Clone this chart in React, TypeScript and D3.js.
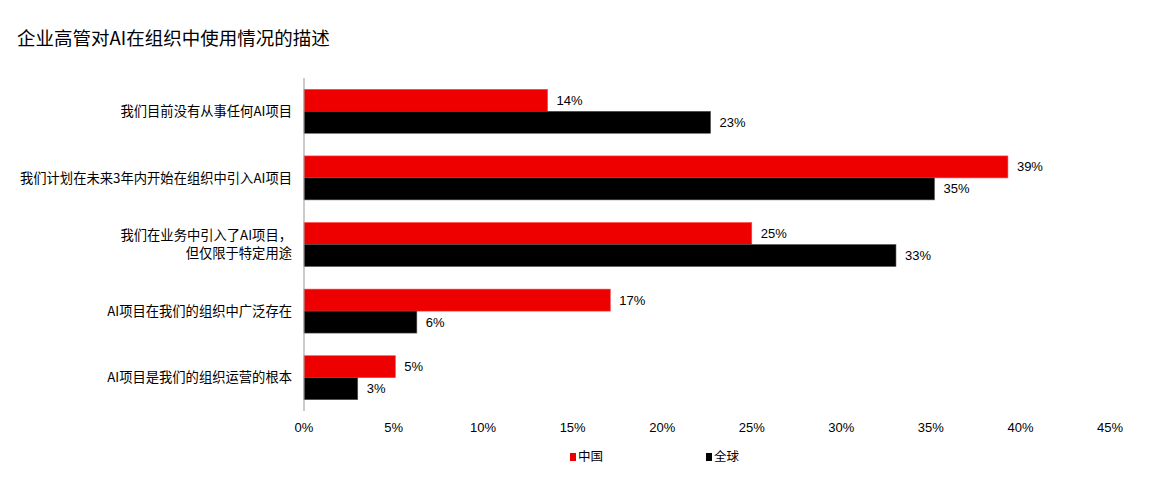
import React from "react";
import * as d3 from "d3";

const categories = [
  ["我们目前没有从事任何AI项目"],
  ["我们计划在未来3年内开始在组织中引入AI项目"],
  ["我们在业务中引入了AI项目，", "但仅限于特定用途"],
  ["AI项目在我们的组织中广泛存在"],
  ["AI项目是我们的组织运营的根本"],
];
const china = [13.6, 39.3, 25.0, 17.1, 5.1];
const world = [22.7, 35.2, 33.05, 6.3, 3.0];
const chinaLabels = ["14%", "39%", "25%", "17%", "5%"];
const worldLabels = ["23%", "35%", "33%", "6%", "3%"];
const ticks = [0, 5, 10, 15, 20, 25, 30, 35, 40, 45];
const seriesNames = ["中国", "全球"];
const colors = ["#EE0000", "#000000"];

const FONT = "'Liberation Sans', 'Noto Sans CJK SC', sans-serif";
const CJK = "'Noto Sans CJK SC', sans-serif";

export default function App() {
  const W = 1167, H = 487;
  const x = d3.scaleLinear().domain([0, 45]).range([304, 1110]);
  const y = d3.scaleBand<number>().domain(d3.range(categories.length)).range([78, 411]).paddingInner(0.34).paddingOuter(0.17);
  const bh = y.bandwidth() / 2;
  const series = [china, world];
  const labels = [chinaLabels, worldLabels];
  return (
    <svg width={W} height={H} style={{ position: "absolute", left: 0, top: 0, background: "#fff" }}>
      <text x={17} y={45} fontSize={18.5} fontFamily={CJK} fill="#000">企业高管对AI在组织中使用情况的描述</text>
      {categories.map((lines, i) => {
        const cy = (y(i) as number) + y.bandwidth() / 2;
        const lh = 18;
        const start = cy - ((lines.length - 1) * lh) / 2;
        return lines.map((ln, j) => (
          <text key={i + "-" + j} x={292} y={start + j * lh} dy="0.35em" textAnchor="end" fontSize={13.3} fontFamily={CJK} fill="#000">{ln}</text>
        ));
      })}
      {series.map((vals, s) =>
        vals.map((v, i) => {
          const by = (y(i) as number) + s * bh;
          return (
            <g key={s + "-" + i}>
              <rect x={x(0)} y={by} width={x(v) - x(0)} height={bh} fill={colors[s]} stroke={s === 0 ? "#f44" : "#555"} strokeWidth={0.6} />
              <text x={x(v) + 9} y={by + bh / 2} dy="0.35em" fontSize={13} fontFamily={FONT} fill="#000">{labels[s][i]}</text>
            </g>
          );
        })
      )}
      <line x1={x(0)} x2={x(0)} y1={78} y2={411} stroke="#999" strokeWidth={1} />
      {ticks.map((t) => (
        <text key={t} x={x(t)} y={427} dy="0.35em" textAnchor="middle" fontSize={13} fontFamily="'Liberation Sans Narrow', 'Liberation Sans', sans-serif" fill="#000">{t}%</text>
      ))}
      {seriesNames.map((n, s) => {
        const lx = [570, 706][s];
        return (
          <g key={n}>
            <rect x={lx} y={453} width={6} height={8} fill={colors[s]} />
            <text x={lx + 8} y={457} dy="0.35em" fontSize={12.5} fontFamily={CJK} fill="#000">{n}</text>
          </g>
        );
      })}
    </svg>
  );
}
